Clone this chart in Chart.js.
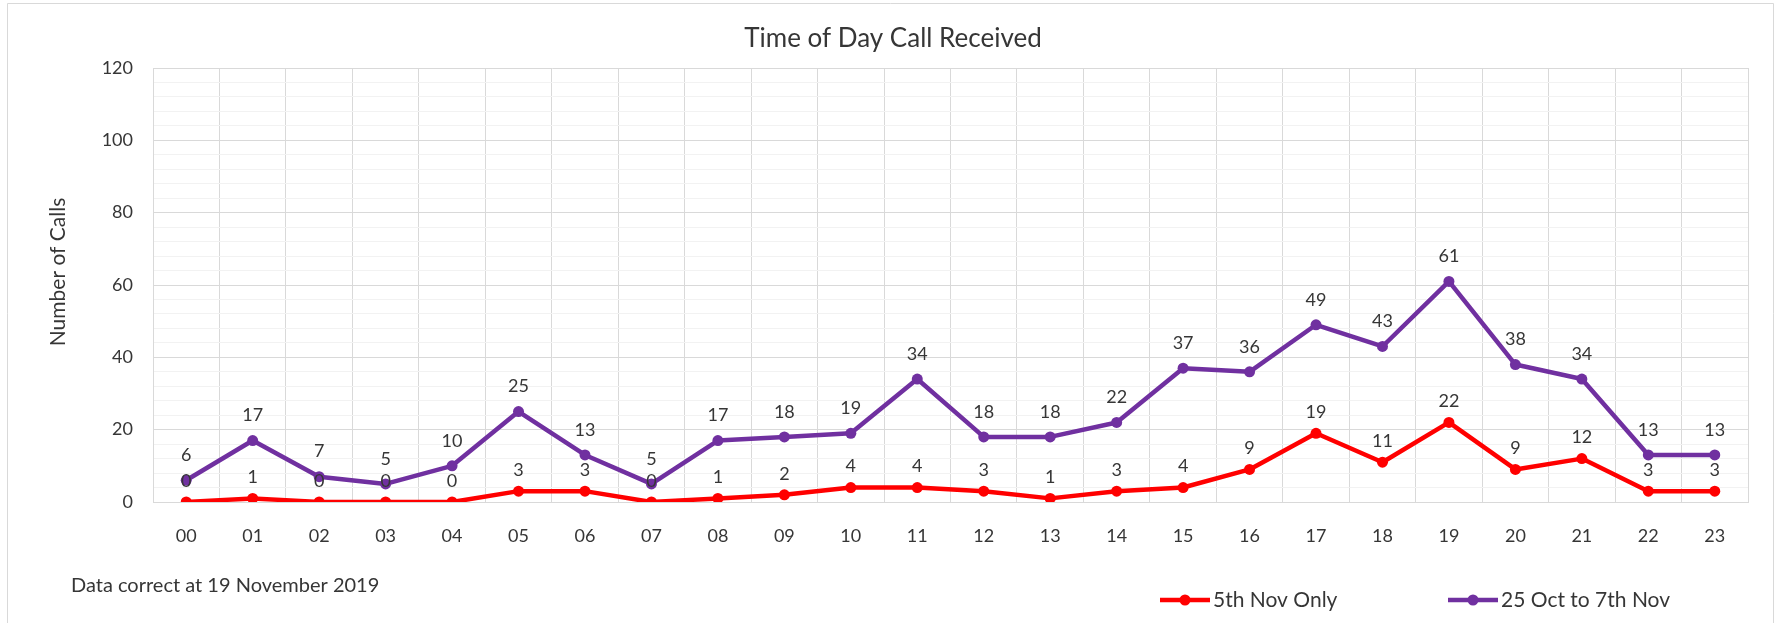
<!DOCTYPE html>
<html>
<head>
<meta charset="utf-8">
<script src="https://cdn.jsdelivr.net/npm/chart.js@4/dist/chart.umd.min.js"></script>
<style>
  html, body { margin: 0; padding: 0; background: #ffffff; }
  #wrap { width: 1783px; height: 623px; position: relative; }
</style>
</head>
<body>
<div id="wrap"><canvas id="c"></canvas></div>
<script>
const hours = ['00','01','02','03','04','05','06','07','08','09','10','11','12','13','14','15','16','17','18','19','20','21','22','23'];
const nov5Only = [0,1,0,0,0,3,3,0,1,2,4,4,3,1,3,4,9,19,11,22,9,12,3,3];
const oct25ToNov7 = [6,17,7,5,10,25,13,5,17,18,19,34,18,18,22,37,36,49,43,61,38,34,13,13];
const seriesNames = ['5th Nov Only', '25 Oct to 7th Nov'];
const chartTitle = 'Time of Day Call Received';
const yAxisTitle = 'Number of Calls';
const footnote = 'Data correct at 19 November 2019';

const RED = '#FF0000';
const PURPLE = '#7030A0';
const TEXT = '#363636';
const FONT = 'Lato, "Open Sans", sans-serif';

const framePlugin = {
  id: 'frame',
  beforeDraw(chart) {
    const ctx = chart.ctx;
    ctx.save();
    ctx.fillStyle = '#ffffff';
    ctx.fillRect(0, 0, chart.width, chart.height);
    ctx.strokeStyle = '#D9D9D9';
    ctx.lineWidth = 1;
    ctx.beginPath();
    ctx.moveTo(7.5, chart.height);
    ctx.lineTo(7.5, 3.5);
    ctx.lineTo(1773.5, 3.5);
    ctx.lineTo(1773.5, chart.height);
    ctx.stroke();
    // title
    ctx.font = '26px ' + FONT;
    ctx.fillStyle = TEXT;
    ctx.textAlign = 'center';
    ctx.textBaseline = 'middle';
    ctx.fillText(chartTitle, 893, 39);
    // y axis title
    ctx.font = '21px ' + FONT;
    ctx.translate(58, 272);
    ctx.rotate(-Math.PI / 2);
    ctx.fillText(yAxisTitle, 0, 0);
    ctx.restore();
  }
};

const labelPlugin = {
  id: 'valueLabels',
  afterDatasetsDraw(chart) {
    const ctx = chart.ctx;
    ctx.save();
    ctx.font = '18px ' + FONT;
    ctx.fillStyle = TEXT;
    ctx.textAlign = 'center';
    ctx.textBaseline = 'middle';
    const offsets = [21, 25];
    chart.data.datasets.forEach((ds, di) => {
      const meta = chart.getDatasetMeta(di);
      meta.data.forEach((pt, i) => {
        ctx.fillText(String(ds.data[i]), pt.x, pt.y - offsets[di]);
      });
    });
    ctx.restore();
  }
};

const footerPlugin = {
  id: 'footer',
  afterDraw(chart) {
    const ctx = chart.ctx;
    ctx.save();
    ctx.font = '20px ' + FONT;
    ctx.fillStyle = TEXT;
    ctx.textBaseline = 'middle';
    ctx.textAlign = 'left';
    ctx.fillText(footnote, 71, 586);
    // legend
    ctx.font = '21px ' + FONT;
    const items = [
      { color: RED, x1: 1160, x2: 1210, tx: 1213, text: seriesNames[0] },
      { color: PURPLE, x1: 1448, x2: 1498, tx: 1501, text: seriesNames[1] }
    ];
    const ly = 600;
    items.forEach(it => {
      ctx.strokeStyle = it.color;
      ctx.lineWidth = 4.5;
      ctx.lineCap = 'butt';
      ctx.beginPath();
      ctx.moveTo(it.x1, ly);
      ctx.lineTo(it.x2, ly);
      ctx.stroke();
      ctx.fillStyle = it.color;
      ctx.beginPath();
      ctx.arc((it.x1 + it.x2) / 2, ly, 5.5, 0, Math.PI * 2);
      ctx.fill();
      ctx.fillStyle = TEXT;
      ctx.fillText(it.text, it.tx, ly);
    });
    ctx.restore();
  }
};

function lineDataset(label, data, color) {
  return {
    label: label,
    data: data,
    borderColor: color,
    backgroundColor: color,
    pointBackgroundColor: color,
    pointBorderColor: color,
    borderWidth: 4.5,
    borderJoinStyle: 'round',
    borderCapStyle: 'round',
    pointRadius: 5.5,
    pointBorderWidth: 0,
    tension: 0
  };
}

new Chart(document.getElementById('c'), {
  type: 'line',
  data: {
    labels: hours,
    datasets: [
      lineDataset(seriesNames[0], nov5Only, RED),
      lineDataset(seriesNames[1], oct25ToNov7, PURPLE)
    ]
  },
  options: {
    responsive: true,
    maintainAspectRatio: false,
    animation: false,
    layout: { padding: { left: 0, right: 35, top: 68, bottom: 0 } },
    plugins: {
      legend: { display: false },
      tooltip: { enabled: false },
      title: { display: false }
    },
    scales: {
      x: {
        offset: true,
        grid: { offset: true, color: '#D9D9D9', lineWidth: 1, drawTicks: false },
        border: { color: '#D9D9D9', width: 1 },
        ticks: {
          color: TEXT,
          font: { family: FONT, size: 18 },
          padding: 23,
          autoSkip: false,
          maxRotation: 0
        },
        afterFit(scale) { scale.height = 121; }
      },
      y: {
        min: 0,
        max: 120,
        grid: {
          color: (c) => (c.tick && c.tick.value % 20 === 0) ? '#D9D9D9' : '#F2F2F2',
          lineWidth: 1,
          drawTicks: false
        },
        border: { color: '#D9D9D9', width: 1 },
        ticks: {
          stepSize: 4,
          autoSkip: false,
          color: TEXT,
          font: { family: FONT, size: 18 },
          padding: 20,
          callback: (v) => (v % 20 === 0 ? String(v) : '')
        },
        title: { display: false },
        afterFit(scale) { scale.width = 153; }
      }
    }
  },
  plugins: [framePlugin, labelPlugin, footerPlugin]
});
</script>
</body>
</html>
